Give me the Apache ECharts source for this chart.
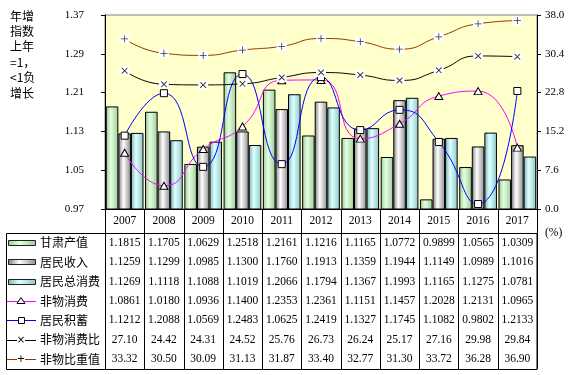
<!DOCTYPE html>
<html>
<head>
<meta charset="utf-8">
<script src="https://cdn.jsdelivr.net/npm/echarts@6/dist/echarts.min.js"></script>
<style>
html, body { margin: 0; padding: 0; background: #fff; }
#main { width: 577px; height: 375px; }
</style>
</head>
<body>
<div id="main"></div>
<script>
// data
const years = ['2007', '2008', '2009', '2010', '2011', '2012', '2013', '2014', '2015', '2016', '2017']
const gsOutput = [1.1815, 1.1705, 1.0629, 1.2518, 1.2161, 1.1216, 1.1165, 1.0772, 0.9899, 1.0565, 1.0309]
const income = [1.1259, 1.1299, 1.0985, 1.1300, 1.1760, 1.1913, 1.1359, 1.1944, 1.1149, 1.0989, 1.1016]
const consume = [1.1269, 1.1118, 1.1088, 1.1019, 1.2066, 1.1794, 1.1367, 1.1993, 1.1165, 1.1275, 1.0781]
const nonMatConsume = [1.0861, 1.0180, 1.0936, 1.1400, 1.2353, 1.2361, 1.1151, 1.1457, 1.2028, 1.2131, 1.0965]
const savings = [1.1212, 1.2088, 1.0569, 1.2483, 1.0625, 1.2419, 1.1327, 1.1745, 1.1082, 0.9802, 1.2133]
const nonMatRatio = [27.10, 24.42, 24.31, 24.52, 25.76, 26.73, 26.24, 25.17, 27.16, 29.98, 29.84]
const nonMatShare = [33.32, 30.50, 30.09, 31.13, 31.87, 33.40, 32.77, 31.30, 33.72, 36.28, 36.90]
const leftTicks = [0.97, 1.05, 1.13, 1.21, 1.29, 1.37]
const rightTicks = [0, 7.6, 15.2, 22.8, 30.4, 38.0]
const seriesNames = ['甘肃产值', '居民收入', '居民总消费', '非物消费', '居民积蓄', '非物消费比', '非物比重值']
const titleLines = ['年增', '指数', '上年', '=1，', '<1负', '增长']

const tableRows = [gsOutput, income, consume, nonMatConsume, savings, nonMatRatio, nonMatShare]
const rowDigits = [4, 4, 4, 4, 4, 2, 2]

// layout
const PL = 105, PR = 537, PT = 15, PB = 209, TT = 233, TB = 369
const colW = (PR - PL) / years.length
const rowH = (TB - TT) / seriesNames.length
const numFont = '11.5px "Liberation Serif"'
const cjkFont = '12px "Noto Sans CJK SC"'

const grad = (a, b, c) => ({
  type: 'linear', x: 0, y: 0, x2: 1, y2: 0,
  colorStops: [{ offset: 0, color: a }, { offset: 0.4, color: b }, { offset: 1, color: c }]
})
const greenFill = grad('#98c898', '#e4ffe0', '#9ccc98')
const grayFill = grad('#7c7c7c', '#ffffff', '#8c8c8c')
const cyanFill = grad('#78b4b4', '#e0ffff', '#8cc8c8')
const barFills = [greenFill, grayFill, cyanFill]

const plusPath = 'path://M4,0H5V9H4Z M0,4H9V5H0Z'
const crossPath = 'path://M0,0L1,0L9,8L9,9L8,9L0,1Z M8,0L9,0L9,1L1,9L0,9L0,8Z'

// graphics: side title + data table
const graphics = []
titleLines.forEach((t, i) => {
  graphics.push({
    type: 'text',
    style: { x: 10, y: 16 + i * 15.4, text: t, font: cjkFont, fill: '#000', textVerticalAlign: 'middle' }
  })
})
graphics.push({
  type: 'rect',
  shape: { x: 6.5, y: TT + 0.5, width: PR - 6.5, height: TB - TT },
  style: { fill: null, stroke: '#000', lineWidth: 1 }
})
for (let i = 0; i <= years.length; i++) {
  const x = Math.round(PL + i * colW) + 0.5
  graphics.push({
    type: 'line',
    shape: { x1: x, y1: PB, x2: x, y2: TB },
    style: { stroke: '#000', lineWidth: 1 }
  })
}
tableRows.forEach((row, r) => {
  const cy = TT + rowH * (r + 0.5)
  row.forEach((v, c) => {
    graphics.push({
      type: 'text',
      style: {
        x: PL + colW * (c + 0.5), y: cy, text: v.toFixed(rowDigits[r]),
        font: numFont, fill: '#000', textAlign: 'center', textVerticalAlign: 'middle'
      }
    })
  })
  graphics.push({
    type: 'text',
    style: { x: 40, y: cy, text: seriesNames[r], font: cjkFont, fill: '#000', textVerticalAlign: 'middle' }
  })
  if (r < 3) {
    graphics.push({
      type: 'rect',
      shape: { x: 8.5, y: Math.round(cy) - 2.5, width: 27, height: 5 },
      style: { fill: barFills[r], stroke: '#222', lineWidth: 1 }
    })
  }
})
// legend keys for lines
const lineKeys = [
  { color: '#ff00ff', mark: 'tri' },
  { color: '#0000ff', mark: 'sq' },
  { color: '#000000', mark: 'x' },
  { color: '#993300', mark: 'plus' }
]
lineKeys.forEach((k, i) => {
  const cy = Math.round(TT + rowH * (i + 3.5)) + 0.5
  graphics.push({ type: 'line', shape: { x1: 7, y1: cy, x2: 36, y2: cy }, style: { stroke: k.color, lineWidth: 1 } })
  if (k.mark === 'tri') {
    graphics.push({ type: 'polygon', shape: { points: [[21, cy - 4], [17, cy + 2], [25, cy + 2]] }, style: { fill: '#fff', stroke: '#000' } })
  } else if (k.mark === 'sq') {
    graphics.push({ type: 'rect', shape: { x: 18.5, y: cy - 3, width: 6, height: 6 }, style: { fill: '#fff', stroke: '#000' } })
  } else {
    graphics.push({ type: 'rect', shape: { x: 17, y: cy - 3.5, width: 8, height: 7 }, style: { fill: '#fff' } })
    graphics.push({
      type: 'text',
      style: { x: 21, y: cy, text: k.mark === 'x' ? '×' : '+', font: '10px "DejaVu Sans"', fill: '#000', textAlign: 'center', textVerticalAlign: 'middle' }
    })
  }
})
graphics.push({
  type: 'text',
  style: { x: 545, y: 233, text: '(%)', font: numFont, fill: '#000', textVerticalAlign: 'middle' }
})

const barSeries = [gsOutput, income, consume].map((d, i) => ({
  name: seriesNames[i],
  type: 'bar',
  yAxisIndex: 0,
  data: d,
  barGap: '0%',
  barCategoryGap: '4%',
  itemStyle: { color: barFills[i], borderColor: '#000', borderWidth: 1 },
  z: 2
}))

const chart = echarts.init(document.getElementById('main'))
chart.setOption({
  animation: false,
  textStyle: { fontFamily: 'Liberation Serif' },
  legend: { show: false },
  grid: {
    left: PL, right: 577 - PR, top: PT, bottom: 375 - PB,
    show: true, backgroundColor: '#ffffcc', borderColor: '#808080', borderWidth: 1
  },
  xAxis: {
    type: 'category',
    data: years,
    boundaryGap: true,
    axisLine: { lineStyle: { color: '#000' } },
    axisTick: { show: false },
    axisLabel: { color: '#000', fontSize: 11.5, fontFamily: 'Liberation Serif', margin: 6 }
  },
  yAxis: [
    {
      type: 'value',
      min: 0.97, max: 1.37, interval: 0.08,
      axisLine: { show: true, lineStyle: { color: '#000' } },
      axisTick: { show: true, length: 4, lineStyle: { color: '#000' }, customValues: leftTicks },
      axisLabel: { color: '#000', fontSize: 11, margin: 21, customValues: leftTicks, formatter: v => v.toFixed(2) },
      splitLine: { show: false }
    },
    {
      type: 'value',
      min: 0, max: 38, interval: 7.6,
      position: 'right',
      axisLine: { show: true, lineStyle: { color: '#000' } },
      axisTick: { show: true, length: 4, lineStyle: { color: '#000' }, customValues: rightTicks },
      axisLabel: { color: '#000', fontSize: 11, margin: 8, customValues: rightTicks, formatter: v => v.toFixed(1) },
      splitLine: { show: false }
    }
  ],
  graphic: graphics,
  series: barSeries.concat([
    {
      name: seriesNames[3], type: 'line', yAxisIndex: 0, data: nonMatConsume, smooth: 0.55,
      symbol: 'triangle', symbolSize: [8, 7],
      lineStyle: { color: '#ff00ff', width: 1 },
      itemStyle: { color: '#fff', borderColor: '#000', borderWidth: 1 }, z: 5
    },
    {
      name: seriesNames[4], type: 'line', yAxisIndex: 0, data: savings, smooth: 0.55,
      symbol: 'rect', symbolSize: 7,
      lineStyle: { color: '#0000ff', width: 1 },
      itemStyle: { color: '#fff', borderColor: '#000', borderWidth: 1 }, z: 5
    },
    {
      name: seriesNames[5], type: 'line', yAxisIndex: 1, data: nonMatRatio, smooth: 0.55,
      symbol: 'rect', symbolSize: [10, 9],
      lineStyle: { color: '#000', width: 1 },
      itemStyle: { color: '#fff', borderWidth: 0 }, z: 5
    },
    {
      name: seriesNames[5], type: 'scatter', yAxisIndex: 1, data: nonMatRatio,
      symbol: crossPath, symbolSize: 6, itemStyle: { color: '#000' }, z: 6
    },
    {
      name: seriesNames[6], type: 'line', yAxisIndex: 1, data: nonMatShare, smooth: 0.55,
      symbol: 'rect', symbolSize: [10, 9],
      lineStyle: { color: '#993300', width: 1 },
      itemStyle: { color: '#fff', borderWidth: 0 }, z: 5
    },
    {
      name: seriesNames[6], type: 'scatter', yAxisIndex: 1, data: nonMatShare,
      symbol: plusPath, symbolSize: 7, itemStyle: { color: '#000' }, z: 6
    }
  ])
})
</script>
</body>
</html>
